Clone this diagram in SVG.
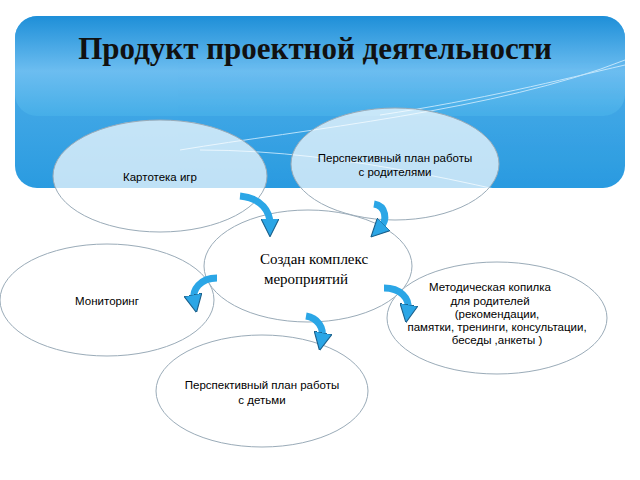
<svg xmlns="http://www.w3.org/2000/svg" width="640" height="480" viewBox="0 0 640 480">
<defs>
<linearGradient id="bg" x1="0" y1="0" x2="0" y2="1">
<stop offset="0" stop-color="#1e8fd8"/><stop offset="0.55" stop-color="#6cbdf0"/><stop offset="1" stop-color="#45aee8"/>
</linearGradient>
<linearGradient id="bg2" x1="0" y1="0" x2="0" y2="1">
<stop offset="0" stop-color="#5ab4ec"/><stop offset="1" stop-color="#2a9be0"/>
</linearGradient>
<marker id="ah" viewBox="0 0 10 10" refX="3" refY="5" markerWidth="2.6" markerHeight="2.6" orient="auto" markerUnits="strokeWidth">
<path d="M0,0 L10,5 L0,10 Z" fill="#2ba6e6" stroke="#1a5f8a" stroke-width="0.6"/>
</marker>
<clipPath id="cb"><rect x="15" y="16" width="610" height="172" rx="22"/></clipPath>
</defs>
<style>
.n{fill:#ffffff;fill-opacity:0.7;stroke:#9aabb8;stroke-width:1}
.t{font-family:"Liberation Sans",Arial,sans-serif;font-size:11.5px;fill:#000;text-anchor:middle}
.a{fill:none;stroke:#2ba6e6;stroke-width:7;marker-end:url(#ah)}
</style>
<rect width="640" height="480" fill="#fff"/>
<rect x="15" y="16" width="610" height="172" rx="22" fill="url(#bg2)"/>
<rect x="15" y="16" width="610" height="100" rx="22" fill="url(#bg)"/>
<g clip-path="url(#cb)" fill="none" stroke="#d8f0ff" stroke-width="1" opacity="0.8">
<path d="M180,150 C300,130 500,110 625,60"/>
<path d="M200,150 C350,150 500,190 625,220"/>
<path d="M380,115 C480,100 560,80 625,65"/>
</g>
<text x="315" y="59" font-family="Liberation Serif,Times New Roman,serif" font-size="31" font-weight="bold" text-anchor="middle" fill="#111">Продукт проектной деятельности</text>
<g id="n1"><ellipse class="n" cx="160" cy="176" rx="107" ry="56"/><text class="t" x="160" y="181">Картотека игр</text></g>
<g id="n2"><ellipse class="n" cx="395" cy="164" rx="104" ry="56"/><text class="t" x="395" y="162">Перспективный план работы</text><text class="t" x="395" y="176">с родителями</text></g>
<g id="n4"><ellipse class="n" cx="107" cy="300" rx="107" ry="56"/><text class="t" x="107" y="305">Мониторинг</text></g>
<g id="n5"><ellipse class="n" cx="497" cy="318" rx="110" ry="56"/><text class="t" x="490" y="291">Методическая копилка</text><text class="t" x="490" y="305">для родителей</text><text class="t" x="497" y="318" font-size="10">(рекомендации,</text><text class="t" x="497" y="331" font-size="10">памятки, тренинги, консультации,</text><text class="t" x="497" y="344" font-size="10">беседы ,анкеты )</text></g>
<g id="n6"><ellipse class="n" cx="262" cy="391" rx="106" ry="56"/><text class="t" x="262" y="389">Перспективный план работы</text><text class="t" x="262" y="404">с детьми</text></g>
<g id="n3"><ellipse class="n" cx="308" cy="266" rx="104" ry="56" fill-opacity="1"/><text x="314" y="264" font-family="Liberation Serif,Times New Roman,serif" font-size="15" text-anchor="middle">Создан комплекс</text><text x="306" y="284" font-family="Liberation Serif,Times New Roman,serif" font-size="15" text-anchor="middle">мероприятий</text></g>
<g id="connectors">
<path class="a" d="M240,196 C262,198 270,212 270,224"/>
<path class="a" d="M374,204 C386,206 388,220 380,228"/>
<path class="a" d="M217,278 C200,278 192,290 194,300"/>
<path class="a" d="M384,288 C400,288 410,298 408,310"/>
<path class="a" d="M306,316 C318,318 324,328 322,338"/>
</g>
</svg>
